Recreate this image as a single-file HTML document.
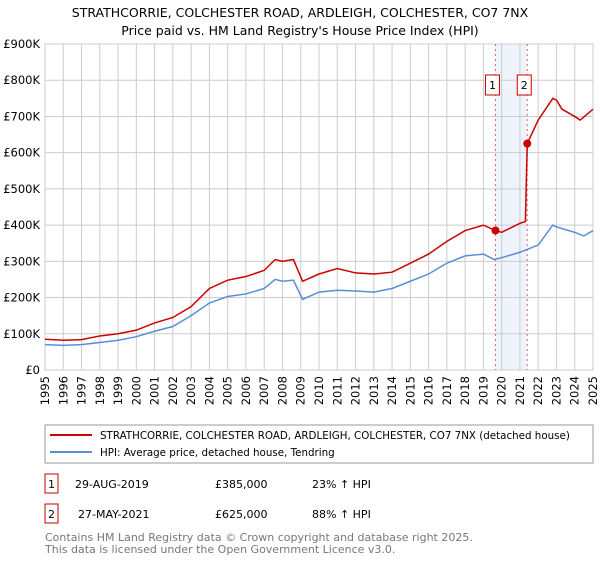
<!DOCTYPE html>
<html><head><meta charset="utf-8"><style>
body{margin:0;background:#fff;font-family:"Liberation Sans","DejaVu Sans",sans-serif;}
svg text{font-family:"DejaVu Sans","Liberation Sans",sans-serif;}
</style></head><body>
<svg width="600" height="560" xmlns="http://www.w3.org/2000/svg">
<text x="300" y="17" text-anchor="middle" font-size="12.5" fill="#000">STRATHCORRIE, COLCHESTER ROAD, ARDLEIGH, COLCHESTER, CO7 7NX</text>
<text x="300" y="35" text-anchor="middle" font-size="12.5" fill="#000">Price paid vs. HM Land Registry's House Price Index (HPI)</text>
<g id="plot"></g>
<rect x="45" y="425" width="548" height="38" fill="#fff" stroke="#999"/>
<line x1="50" y1="435" x2="92" y2="435" stroke="#cc0000" stroke-width="2"/>
<text x="100" y="439" font-size="10.3">STRATHCORRIE, COLCHESTER ROAD, ARDLEIGH, COLCHESTER, CO7 7NX (detached house)</text>
<line x1="50" y1="452" x2="92" y2="452" stroke="#5b8dd6" stroke-width="2"/>
<text x="100" y="456" font-size="10.3">HPI: Average price, detached house, Tendring</text>
<rect x="45" y="474" width="13" height="19" fill="#fff" stroke="#cc0000"/>
<text x="51.5" y="488" text-anchor="middle" font-size="11">1</text>
<text x="75" y="488" font-size="11">29-AUG-2019</text>
<text x="215" y="488" font-size="11">£385,000</text>
<text x="312" y="488" font-size="11">23% ↑ HPI</text>
<rect x="45" y="504" width="13" height="19" fill="#fff" stroke="#cc0000"/>
<text x="51.5" y="518" text-anchor="middle" font-size="11">2</text>
<text x="78" y="518" font-size="11">27-MAY-2021</text>
<text x="215" y="518" font-size="11">£625,000</text>
<text x="312" y="518" font-size="11">88% ↑ HPI</text>
<text x="45" y="541" font-size="11" fill="#777">Contains HM Land Registry data © Crown copyright and database right 2025.</text>
<text x="45" y="553" font-size="11" fill="#777">This data is licensed under the Open Government Licence v3.0.</text>
</svg>
<script>
const hpiYears=[1995,1996,1997,1998,1999,2000,2001,2002,2003,2004,2005,2006,2007,2007.6,2008,2008.6,2009.1,2010,2011,2012,2013,2014,2015,2016,2017,2018,2019,2019.6,2020,2021,2022,2022.8,2023,2024,2024.5,2025];
const hpiValues=[70,68,70,76,82,92,107,120,150,185,203,210,225,250,245,248,195,215,220,218,215,225,245,265,295,315,320,305,310,325,345,400,395,380,370,385];
const priceYears=[1995,1996,1997,1998,1999,2000,2001,2002,2003,2004,2005,2006,2007,2007.6,2008,2008.6,2009.1,2010,2011,2012,2013,2014,2015,2016,2017,2018,2019,2019.66,2020,2021,2021.3,2021.4,2022,2022.8,2023,2023.3,2024,2024.3,2025];
const priceValues=[85,82,84,94,100,110,130,145,175,225,248,258,275,305,300,305,245,265,280,268,265,270,295,320,355,385,400,385,380,405,410,625,690,750,745,720,700,690,720];
const saleYears=[2019.66,2021.4];
const saleValues=[385,625];
const saleLabels=["1","2"];
const yTicks=[0,100,200,300,400,500,600,700,800,900];
const yTickLabels=["£0","£100K","£200K","£300K","£400K","£500K","£600K","£700K","£800K","£900K"];
const xTicks=[1995,1996,1997,1998,1999,2000,2001,2002,2003,2004,2005,2006,2007,2008,2009,2010,2011,2012,2013,2014,2015,2016,2017,2018,2019,2020,2021,2022,2023,2024,2025];
const X0=45,X1=593,Y0=370,Y1=44;
const xs=y=>X0+(y-1995)/30*(X1-X0);
const ys=v=>Y0-v/900*(Y0-Y1);
const NS="http://www.w3.org/2000/svg";
const g=document.getElementById('plot');
function mk(t,a){const e=document.createElementNS(NS,t);for(const k in a)e.setAttribute(k,a[k]);g.appendChild(e);return e;}
const band=mk('rect',{x:xs(saleYears[0]),y:Y1,width:xs(saleYears[1])-xs(saleYears[0]),height:Y0-Y1,fill:'#eef3fc'});


yTicks.forEach((v,i)=>{
 const l=mk('line',{x1:X0,x2:X1,y1:ys(v),y2:ys(v),stroke:'#ccc'});
 
 
 const t=mk('text',{x:X0-5,y:ys(v)+4,'text-anchor':'end','font-size':'11.5'});
 t.textContent=yTickLabels[i];
 
 
});
xTicks.forEach(yr=>{
 const l=mk('line',{x1:xs(yr),x2:xs(yr),y1:Y1,y2:Y0,stroke:'#ccc'});
 
 
 const t=mk('text',{x:0,y:0,'text-anchor':'end','font-size':'11.5',transform:`translate(${xs(yr)+4},${Y0+6}) rotate(-90)`});
 t.textContent=yr;
 
 
});
const ax=mk('rect',{x:X0,y:Y1,width:X1-X0,height:Y0-Y1,fill:'none',stroke:'#ccc'});


saleYears.forEach((yr,i)=>{
 const l=mk('line',{x1:xs(yr),x2:xs(yr),y1:Y1,y2:Y0,stroke:'#e06666','stroke-dasharray':'2,3'});
 
 
 const r=mk('rect',{x:xs(yr)-10,y:75,width:14,height:20,fill:'#fff',stroke:'#cc0000'});
 
 
 const t=mk('text',{x:xs(yr)-3,y:89,'text-anchor':'middle','font-size':'11'});
 t.textContent=saleLabels[i];
 
 
});
const hp=mk('polyline',{points:hpiYears.map((y,i)=>xs(y)+','+ys(hpiValues[i])).join(' '),fill:'none',stroke:'#5b8dd6','stroke-width':1.5});


const pp=mk('polyline',{points:priceYears.map((y,i)=>xs(y)+','+ys(priceValues[i])).join(' '),fill:'none',stroke:'#cc0000','stroke-width':1.5});


saleYears.forEach((yr,i)=>{
 const c=mk('circle',{cx:xs(yr),cy:ys(saleValues[i]),r:4,fill:'#cc0000'});
 
 
});
</script>
</body></html>
